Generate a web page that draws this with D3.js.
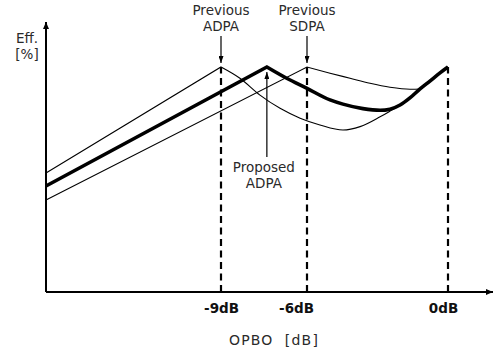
<!DOCTYPE html>
<html>
<head>
<meta charset="utf-8">
<script src="https://cdn.jsdelivr.net/npm/d3@7"></script>
<style>
  body { margin: 0; background: #fff; }
  svg { display: block; }
</style>
</head>
<body>
<svg id="chart" width="494" height="352"></svg>
<script>
// ---- Data -------------------------------------------------------------
// OPBO axis (dB)
const opboMin = -15.1;
const opboMax = 1.9;
const tickValues = [-9, -6, 0];
const tickLabels = ["-9dB", "-6dB", "0dB"];

// Previous ADPA efficiency [%]
const prevAdpaOpbo = [-15.1, -9, -8.34, -7.64, -6.94, -6.24, -5.45, -4.47, -3.74, -2.89, -2.47, -2.04, -1.62, -1.19, -0.77, -0.34, 0];
const prevAdpaEff  = [42.3, 80, 76.0, 70.0, 65.3, 61.8, 59.4, 57.6, 58.8, 62.3, 64.3, 66.5, 69.0, 72.2, 75.0, 77.9, 80];

// Previous SDPA efficiency [%]
const prevSdpaOpbo = [-15.1, -6, -5.02, -4.17, -3.32, -2.47, -1.62, -1.19, -0.77, -0.34, 0];
const prevSdpaEff  = [32.7, 80, 77.8, 76.0, 74.2, 72.8, 72.1, 72.2, 75.0, 77.9, 80];

// Proposed ADPA efficiency [%]
const propAdpaOpbo = [-15.1, -7.4, -6.71, -6.0, -5.02, -4.47, -3.62, -2.89, -2.47, -2.04, -1.62, -1.19, -0.77, -0.34, 0];
const propAdpaEff  = [37.7, 80, 76.0, 72.4, 68.3, 66.8, 65.2, 64.6, 65.0, 66.5, 69.0, 72.2, 75.0, 77.9, 80];

const effTop = 96;
const peakEff = 80;

// ---- Layout -----------------------------------------------------------
const svg = d3.select("#chart");
const fontFamily = "'DejaVu Sans', 'Liberation Sans', sans-serif";

// Schematic OPBO axis: breakpoints at the marked back-off levels
const x = d3.scaleLinear()
  .domain([opboMin, -9, -6, 0, opboMax])
  .range([46, 221, 307, 448, 493]);
const y = d3.scaleLinear().domain([0, effTop]).range([292, 22]);

// Arrowhead markers
const defs = svg.append("defs");
function marker(id, len, wid) {
  defs.append("marker")
    .attr("id", id)
    .attr("viewBox", `0 0 ${len} ${wid}`)
    .attr("refX", len).attr("refY", wid / 2)
    .attr("markerWidth", len).attr("markerHeight", wid)
    .attr("markerUnits", "userSpaceOnUse")
    .attr("orient", "auto")
    .append("path")
    .attr("d", `M0,0L${len},${wid / 2}L0,${wid}Z`)
    .attr("fill", "#000");
}
marker("axisArrow", 7, 6);
marker("noteArrow", 7, 5);

// Dashed guides at the efficiency peaks
svg.append("g").selectAll("line")
  .data(tickValues)
  .join("line")
  .attr("x1", d => x(d)).attr("x2", d => x(d))
  .attr("y1", y(0)).attr("y2", y(peakEff))
  .attr("stroke", "#000")
  .attr("stroke-width", 2.2)
  .attr("stroke-dasharray", "7,4.5");

// Axes
svg.append("line")
  .attr("x1", x(opboMin)).attr("x2", x(opboMax))
  .attr("y1", y(0)).attr("y2", y(0))
  .attr("stroke", "#000").attr("stroke-width", 2)
  .attr("marker-end", "url(#axisArrow)");
svg.append("line")
  .attr("x1", x(opboMin)).attr("x2", x(opboMin))
  .attr("y1", y(0)).attr("y2", y(effTop))
  .attr("stroke", "#000").attr("stroke-width", 2)
  .attr("marker-end", "url(#axisArrow)");

// Tick labels
const tickNudge = [0, -11, -5];
const xAxis = svg.append("g")
  .attr("transform", `translate(0,${y(0)})`)
  .call(d3.axisBottom(x).tickValues(tickValues).tickSize(0).tickPadding(11)
    .tickFormat((d, i) => tickLabels[i]));
xAxis.select(".domain").remove();
xAxis.selectAll(".tick text")
  .attr("dx", (d, i) => tickNudge[i])
  .attr("font-family", fontFamily)
  .attr("font-size", 13.5)
  .attr("font-weight", "bold")
  .attr("fill", "#111");

// Efficiency curves: straight rise to the peak, smooth fall afterwards
const rise = d3.line().x(d => x(d[0])).y(d => y(d[1]));
const fall = d3.line().x(d => x(d[0])).y(d => y(d[1])).curve(d3.curveMonotoneX);
function curvePath(opbo, eff) {
  const pts = opbo.map((o, i) => [o, eff[i]]);
  const pk = d3.maxIndex(pts.slice(0, -1), d => d[1]);
  return rise(pts.slice(0, pk + 1)) + fall(pts.slice(pk)).replace(/^M/, "L");
}
const series = [
  { opbo: prevAdpaOpbo, eff: prevAdpaEff, w: 1.1 },
  { opbo: prevSdpaOpbo, eff: prevSdpaEff, w: 1.1 },
  { opbo: propAdpaOpbo, eff: propAdpaEff, w: 3.6 }
];
svg.append("g").selectAll("path")
  .data(series)
  .join("path")
  .attr("d", s => curvePath(s.opbo, s.eff))
  .attr("fill", "none")
  .attr("stroke", "#000")
  .attr("stroke-width", s => s.w)
  .attr("stroke-linejoin", "miter");

// Annotations
const textFill = "#2a2a2a";
function label(cx, lines, y0, size) {
  const t = svg.append("text")
    .attr("text-anchor", "middle")
    .attr("font-family", fontFamily)
    .attr("font-size", size)
    .attr("fill", textFill);
  lines.forEach((s, i) => t.append("tspan").attr("x", cx).attr("y", y0 + i * 15.5).text(s));
}
const prevAdpaPeak = prevAdpaOpbo[d3.maxIndex(prevAdpaEff)];
const prevSdpaPeak = prevSdpaOpbo[d3.maxIndex(prevSdpaEff)];
const propAdpaPeak = propAdpaOpbo[d3.maxIndex(propAdpaEff)];

label(x(prevAdpaPeak), ["Previous", "ADPA"], 15, 13.5);
label(x(prevSdpaPeak), ["Previous", "SDPA"], 15, 13.5);
label(x(propAdpaPeak) - 3, ["Proposed", "ADPA"], 172, 13.5);

function noteArrow(px, y1, y2) {
  svg.append("line")
    .attr("x1", px).attr("x2", px)
    .attr("y1", y1).attr("y2", y2)
    .attr("stroke", "#000").attr("stroke-width", 1.2)
    .attr("marker-end", "url(#noteArrow)");
}
noteArrow(x(prevAdpaPeak), 36, y(peakEff) - 4);
noteArrow(x(prevSdpaPeak), 36, y(peakEff) - 4);
noteArrow(x(propAdpaPeak), 157, y(peakEff) + 5);

// Axis titles
label(27, ["Eff.", "[%]"], 43, 13.5);
svg.append("text")
  .attr("x", 274).attr("y", 345)
  .attr("text-anchor", "middle")
  .attr("font-family", fontFamily)
  .attr("font-size", 14)
  .attr("letter-spacing", 1.2)
  .attr("fill", textFill)
  .attr("xml:space", "preserve")
  .style("white-space", "pre")
  .text("OPBO  [dB]");
</script>
</body>
</html>
